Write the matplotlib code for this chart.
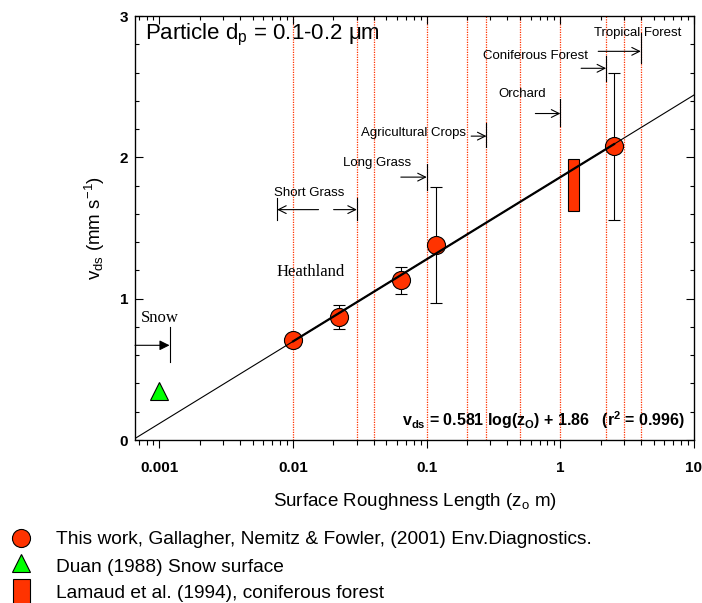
import math

import matplotlib
matplotlib.use('Agg')
import matplotlib.pyplot as plt
from matplotlib.lines import Line2D
from matplotlib.patches import Rectangle

plt.rcParams['font.family'] = ['Liberation Sans', 'DejaVu Sans']
plt.rcParams['mathtext.fontset'] = 'custom'
plt.rcParams['mathtext.rm'] = 'Liberation Sans'
plt.rcParams['mathtext.it'] = 'Liberation Sans'
plt.rcParams['mathtext.bf'] = 'Liberation Sans:bold'

RED = '#FF3300'

# this work (Gallagher, Nemitz & Fowler 2001)
roughness = [0.01, 0.022, 0.064, 0.117, 2.52]
vds = [0.71, 0.87, 1.13, 1.38, 2.08]
vds_low = [0.71, 0.785, 1.03, 0.97, 1.56]
vds_high = [0.71, 0.955, 1.225, 1.79, 2.60]

# Duan (1988) snow
snow_z = [0.001]
snow_v = [0.35]

# Lamaud et al. (1994) coniferous forest (z range, vds range)
lamaud_z = [1.15, 1.39]
lamaud_v = [1.62, 1.99]

# fit: vds = 0.581 log(z0) + 1.86
fit_slope = 0.581
fit_icept = 1.86

# red dotted class boundaries
boundaries = [0.01, 0.03, 0.04, 0.1, 0.2, 0.28, 0.5, 1.0, 2.2, 3.0, 4.0]

# surface type labels and their arrows
veg_names = ['Long Grass', 'Agricultural Crops', 'Orchard', 'Coniferous Forest', 'Tropical Forest']
veg_text_x = [0.0425, 0.080, 0.515, 0.65, 3.77]
veg_text_y = [1.96, 2.17, 2.45, 2.72, 2.88]
veg_arrow_from = [0.064, 0.215, 0.65, 1.43, 1.92]
veg_arrow_to = [0.1, 0.28, 1.0, 2.2, 4.0]
veg_arrow_y = [1.86, 2.15, 2.31, 2.63, 2.75]
veg_bar_lo = [1.77, 2.07, 2.22, 2.54, 2.67]
veg_bar_hi = [1.95, 2.24, 2.41, 2.72, 2.88]

short_grass_range = [0.0076, 0.03]
short_grass_gap = [0.0155, 0.0201]

xmin, xmax = 10 ** -3.183, 10


def fit(z):
    return fit_slope * math.log10(z) + fit_icept


fig = plt.figure(figsize=(7.02, 6.03), dpi=100)
ax = fig.add_axes([135 / 702, 1 - 440 / 603, 559 / 702, 424 / 603])
ax.set_xscale('log')
ax.set_xlim(xmin, xmax)
ax.set_ylim(0, 3)

for b in boundaries:
    ax.axvline(b, color=RED, ls=(0, (1, 1)), lw=0.9, zorder=1)

# fit line: thin across the whole axis, thicker over the data range
xs = [xmin, xmax]
ax.plot(xs, [fit(x) for x in xs], color='black', lw=0.8, zorder=5)
xd = [roughness[0], roughness[-1]]
ax.plot(xd, [fit(x) for x in xd], color='black', lw=1.6, zorder=5)

yerr = [[v - lo for v, lo in zip(vds, vds_low)], [hi - v for v, hi in zip(vds, vds_high)]]
ax.errorbar(roughness, vds, yerr=yerr, fmt='o', ms=13, mfc=RED, mec='black', mew=0.8,
            ecolor='black', elinewidth=0.8, capsize=4, capthick=0.8, zorder=4)

ax.plot(snow_z, snow_v, '^', ms=13, mfc='#00FF00', mec='black', mew=0.8, zorder=4)

ax.bar([lamaud_z[0]], [lamaud_v[1] - lamaud_v[0]], bottom=[lamaud_v[0]],
       width=[lamaud_z[1] - lamaud_z[0]], align='edge', color=RED,
       edgecolor='black', lw=0.8, zorder=3)

# surface type arrows
arrow_kw = dict(arrowstyle='->', color='black', lw=0.8, mutation_scale=14, shrinkA=0, shrinkB=0)
for name, tx, ty, a0, a1, ay, blo, bhi in zip(veg_names, veg_text_x, veg_text_y, veg_arrow_from,
                                               veg_arrow_to, veg_arrow_y, veg_bar_lo, veg_bar_hi):
    ax.text(tx, ty, name, fontsize=9.5, ha='center', va='center', zorder=6)
    ax.annotate('', xy=(a1, ay), xytext=(a0, ay), arrowprops=arrow_kw, zorder=6)
    ax.plot([a1, a1], [blo, bhi], color='black', lw=0.8, zorder=6)

ax.text(0.0131, 1.75, 'Short Grass', fontsize=9.5, ha='center', va='center')
ax.annotate('', xy=(short_grass_range[0], 1.63), xytext=(short_grass_gap[0], 1.63), arrowprops=arrow_kw)
ax.annotate('', xy=(short_grass_range[1], 1.63), xytext=(short_grass_gap[1], 1.63), arrowprops=arrow_kw)
for x in short_grass_range:
    ax.plot([x, x], [1.56, 1.71], color='black', lw=0.8)

# snow arrow
ax.text(0.001, 0.86, 'Snow', family='Liberation Serif', fontsize=12, ha='center', va='center')
ax.annotate('', xy=(0.00119, 0.67), xytext=(xmin, 0.67),
            arrowprops=dict(arrowstyle='-|>', color='black', fc='black', lw=0.8,
                            mutation_scale=15, shrinkA=0, shrinkB=0))
ax.plot([0.00119, 0.00119], [0.55, 0.80], color='black', lw=0.8)

ax.text(0.0136, 1.19, 'Heathland', family='Liberation Serif', fontsize=12, ha='center', va='center')

ax.text(0.00078, 2.866, 'Particle d$_\\mathrm{p}$ = 0.1-0.2 \u03bcm', fontsize=16, ha='left', va='center')

ax.text(0.984, 0.047,
        'v$_{\\mathbf{ds}}$ = 0.581 log(z$_{\\mathbf{O}}$) + 1.86   (r$^{\\mathbf{2}}$ = 0.996)',
        transform=ax.transAxes, fontsize=11.5, fontweight='bold', ha='right', va='center')

# axes styling
ax.set_xticks([0.001, 0.01, 0.1, 1, 10])
ax.set_xticklabels(['0.001', '0.01', '0.1', '1', '10'])
ax.set_yticks([0, 1, 2, 3])
ax.set_yticks([0.2, 0.4, 0.6, 0.8, 1.2, 1.4, 1.6, 1.8, 2.2, 2.4, 2.6, 2.8], minor=True)
ax.tick_params(axis='x', which='major', direction='out', length=6, width=0.8, pad=9)
ax.tick_params(axis='x', which='minor', direction='out', length=3.5, width=0.8)
ax.tick_params(axis='y', which='major', direction='in', length=6, width=0.8, pad=5, right=True)
ax.tick_params(axis='y', which='minor', direction='in', length=3, width=0.8, right=True)
for lab in ax.get_xticklabels() + ax.get_yticklabels():
    lab.set_fontweight('bold')
    lab.set_fontsize(11)
for s in ax.spines.values():
    s.set_linewidth(0.9)

top = ax.twiny()
top.set_xscale('log')
top.set_xlim(xmin, xmax)
top.set_xticks([0.001, 0.01, 0.1, 1, 10])
top.tick_params(axis='x', which='major', direction='in', length=6, width=0.8, labeltop=False)
top.tick_params(axis='x', which='minor', direction='in', length=3, width=0.8, labeltop=False)

ax.set_xlabel('Surface Roughness Length (z$_\\mathrm{o}$ m)', fontsize=13.5, labelpad=12)
ax.set_ylabel('v$_\\mathrm{ds}$ (mm s$^\\mathrm{-1}$)', fontsize=13.5, labelpad=9)

# legend below the axes
legend_labels = ['This work, Gallagher, Nemitz & Fowler, (2001) Env.Diagnostics.',
                 'Duan (1988) Snow surface',
                 'Lamaud et al. (1994), coniferous forest']
legend_y = [539, 568, 593]
fig.add_artist(Line2D([21 / 702], [1 - 538 / 603], marker='o', ms=13, mfc=RED, mec='black', mew=0.8,
                      transform=fig.transFigure))
fig.add_artist(Line2D([21 / 702], [1 - 563 / 603], marker='^', ms=13, mfc='#00FF00', mec='black', mew=0.8,
                      transform=fig.transFigure))
fig.add_artist(Rectangle((13 / 702, 1 - 620 / 603), 17 / 702, 41 / 603, facecolor=RED,
                         edgecolor='black', lw=0.8, transform=fig.transFigure))
for lab, y in zip(legend_labels, legend_y):
    fig.text(56 / 702, 1 - y / 603, lab, fontsize=13.8, ha='left', va='center')

fig.savefig('out.png', dpi=100)
